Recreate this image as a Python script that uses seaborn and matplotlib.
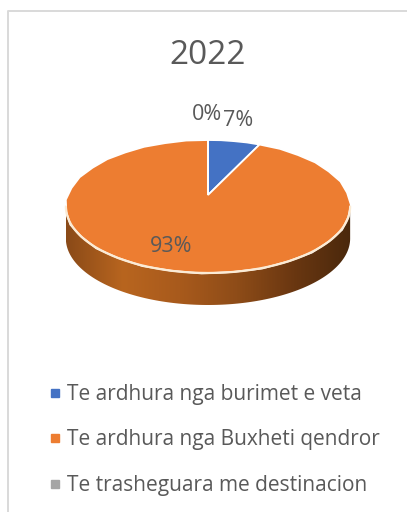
#!/usr/bin/env python3

import matplotlib
matplotlib.use("Agg")
import matplotlib.pyplot as plt
from matplotlib.colors import LinearSegmentedColormap
from matplotlib.lines import Line2D
from matplotlib.patches import Polygon
import numpy as np
import seaborn as sns

# Data
TITLE = "2022"
LABELS = ["Te ardhura nga burimet e veta", "Te ardhura nga Buxheti qendror", "Te trasheguara me destinacion"]
VALUES = [7, 93, 0]
COLORS = ["#4472C4", "#ED7D31", "#A5A5A5"]

TEXT_COLOR = "#595959"
FONT = "Open Sans"

# pie geometry in pixels, the disc is tilted so the far half looks shorter
CX, CY = 208, 195
RX, RY = 140, 64.5
TILT = 0.173
DEPTH = 32


def project(pts):
    """Map points of the unit pie onto the tilted disc (pixel coords)."""
    pts = np.asarray(pts)
    w = 1 + TILT * pts[:, 1]
    return np.column_stack([CX + RX * pts[:, 0] / w, CY - RY * pts[:, 1] / w])


sns.set_theme(style="white")
plt.rcParams["font.family"] = [FONT, "DejaVu Sans"]

fig = plt.figure(figsize=(4.07, 5.12), dpi=100)
ax = fig.add_axes([0, 0, 1, 1])

wedges, _ = ax.pie(VALUES, colors=sns.color_palette(COLORS), startangle=90, counterclock=False)

# rim of the disc
theta = np.linspace(0, 2 * np.pi, 361)
rim = project(np.column_stack([np.cos(theta), np.sin(theta)]))
left, right = rim[:, 0].argmin(), rim[:, 0].argmax()
lower = rim[min(left, right):max(left, right) + 1]
if lower[:, 1].max() < rim[:, 1].max():
    lower = np.vstack([rim[left:-1], rim[:right + 1]])
upper = rim[right:left + 1]

# side wall, a horizontal gradient clipped to the wall shape
side_cmap = LinearSegmentedColormap.from_list(
    "side", ["#8A4A18", "#B8651F", "#A85A1C", "#8E4C18", "#6A3711", "#4A280C"]
)
gradient = np.linspace(0, 1, 256).reshape(1, -1)
im = ax.imshow(gradient, cmap=side_cmap, aspect="auto", zorder=1,
               extent=(rim[:, 0].min(), rim[:, 0].max(), CY + 130, CY - 30))
wall = Polygon(np.vstack([lower, (lower + [0, DEPTH])[::-1]]), closed=True,
               transform=ax.transData, facecolor="none", edgecolor="none")
ax.add_patch(wall)
im.set_clip_path(wall)

# the disc itself, using the wedges the pie made
for wedge in wedges:
    poly = wedge.get_path().to_polygons(closed_only=True)[0]
    color = wedge.get_facecolor()
    wedge.remove()
    ax.add_patch(Polygon(project(poly), closed=True, facecolor=color, edgecolor="#FFFFFF",
                         linewidth=1.3, joinstyle="miter", zorder=2))

ax.plot(lower[:, 0], lower[:, 1], color="#FBEBD5", lw=1.6, zorder=3)
ax.plot(upper[:, 0], upper[:, 1] - 1, color="#3A3A3A", lw=0.6, alpha=0.6, zorder=1.5)

# data labels
ax.text(207, 115, f"{VALUES[2]}%", ha="center", va="center", fontsize=15.5, color=TEXT_COLOR, zorder=4)
ax.text(238, 120, f"{VALUES[0]}%", ha="center", va="center", fontsize=15.5, color=TEXT_COLOR, zorder=4)
ax.text(171, 246, f"{VALUES[1]}%", ha="center", va="center", fontsize=15.5, color=TEXT_COLOR, zorder=4)

ax.text(208, 56, TITLE, ha="center", va="center", fontsize=24, color=TEXT_COLOR)

# chart border, only left and top are in the crop
ax.plot([8, 8, 407], [512, 11, 11], color="#D9D9D9", lw=1.4, zorder=0)

ax.set(xlim=(0, 407), ylim=(512, 0), aspect="auto")
ax.axis("off")

handles = [Line2D([], [], linestyle="none", marker="s", markersize=6, color=c) for c in COLORS]
ax.legend(handles, LABELS, loc="upper left", bbox_to_anchor=(43 / 407, 1 - 384 / 512),
          frameon=False, fontsize=15, labelcolor=TEXT_COLOR, labelspacing=1.176,
          handletextpad=0, handlelength=1.15, borderpad=0, borderaxespad=0)

fig.savefig("out.png", dpi=100)
